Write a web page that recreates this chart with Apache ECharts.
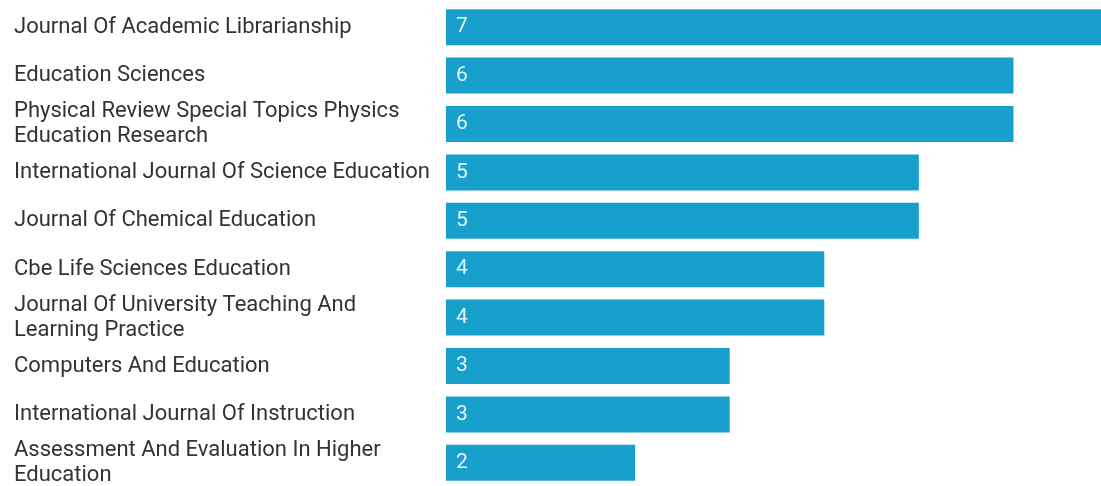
<!DOCTYPE html>
<html>
<head>
<meta charset="utf-8">
<style>
  html, body { margin: 0; padding: 0; background: #fff; }
  #chart { width: 1101px; height: 486px; }
</style>
<script src="https://cdn.jsdelivr.net/npm/echarts@6/dist/echarts.min.js"></script>
</head>
<body>
<div id="chart"></div>
<script>
  // journals, top to bottom
  var journals = [
    'Journal Of Academic Librarianship',
    'Education Sciences',
    'Physical Review Special Topics Physics Education Research',
    'International Journal Of Science Education',
    'Journal Of Chemical Education',
    'Cbe Life Sciences Education',
    'Journal Of University Teaching And Learning Practice',
    'Computers And Education',
    'International Journal Of Instruction',
    'Assessment And Evaluation In Higher Education'
  ];
  var docCounts = [7, 6, 6, 5, 5, 4, 4, 3, 3, 2];

  var chart = echarts.init(document.getElementById('chart'));
  chart.setOption({
    animation: false,
    grid: {
      left: 446,
      width: 662,
      top: 3,
      height: 484,
      outerBoundsMode: 'none'
    },
    xAxis: {
      type: 'value',
      min: 0,
      max: 7,
      show: false
    },
    yAxis: {
      type: 'category',
      inverse: true,
      data: journals,
      axisLine: { show: false },
      axisTick: { show: false },
      axisLabel: {
        align: 'left',
        margin: 432,
        width: 424,
        overflow: 'break',
        fontFamily: 'Roboto',
        fontSize: 22,
        lineHeight: 25,
        color: '#333333'
      }
    },
    series: [
      {
        type: 'bar',
        data: docCounts,
        barWidth: 36,
        itemStyle: { color: '#18a0cc' },
        label: {
          show: true,
          position: 'insideLeft',
          distance: 10,
          fontFamily: 'Roboto',
          fontSize: 21,
          color: '#e6f4fa'
        }
      }
    ]
  });
</script>
</body>
</html>
